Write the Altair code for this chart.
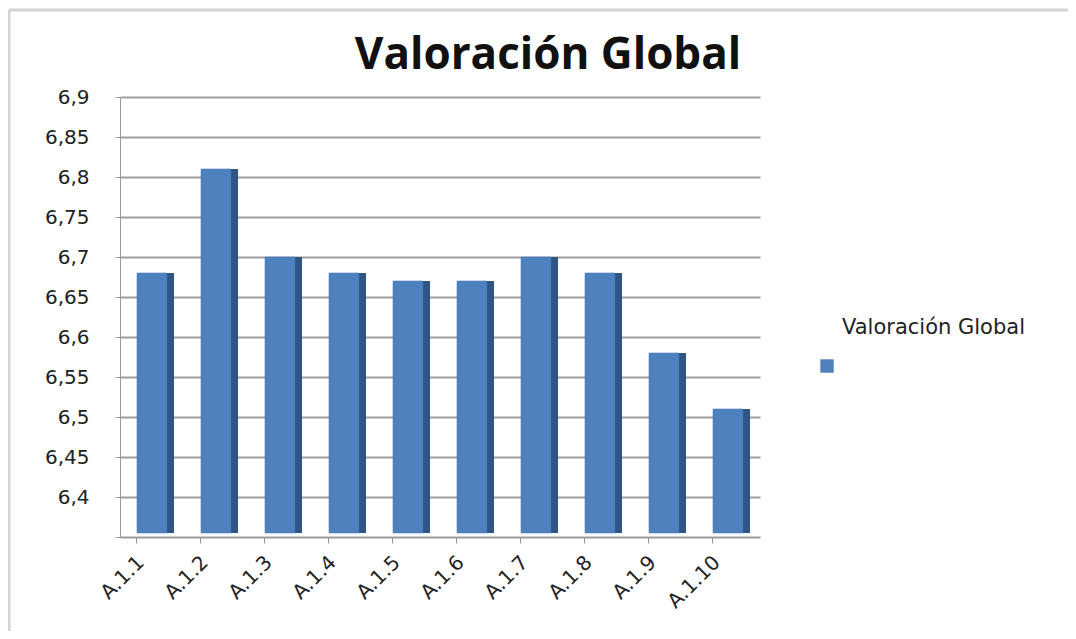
import altair as alt
import pandas as pd

categories = ["A.1.1", "A.1.2", "A.1.3", "A.1.4", "A.1.5", "A.1.6", "A.1.7", "A.1.8", "A.1.9", "A.1.10"]
values = [6.68, 6.81, 6.70, 6.68, 6.67, 6.67, 6.70, 6.68, 6.58, 6.51]
series = ["Valoración Global"] * len(categories)
y_ticks = [6.35, 6.4, 6.45, 6.5, 6.55, 6.6, 6.65, 6.7, 6.75, 6.8, 6.85, 6.9]
title_text = "Valoración Global"

df = pd.DataFrame({"cat": categories, "val": values, "serie": series})

x_enc = alt.X("cat:N", sort=categories, title=None,
              scale=alt.Scale(paddingInner=0.5, paddingOuter=0.25),
              axis=alt.Axis(labelAngle=-45, labelFontSize=20, labelFont="DejaVu Sans",
                            labelColor="#222", domainColor="#999", tickColor="#999",
                            labelPadding=16, labelAlign="right", labelBaseline="middle",
                            labelOverlap=False, tickSize=6, bandPosition=0, labelOffset=-11))
y_enc = alt.Y("val:Q", title=None,
              scale=alt.Scale(domain=[6.35, 6.9], zero=False, nice=False),
              axis=alt.Axis(values=y_ticks, labelFontSize=20, labelFont="DejaVu Sans",
                            labelColor="#222", domainColor="#999", tickColor="#999",
                            gridColor="#a0a0a0", gridWidth=2, labelPadding=26,
                            labelOverlap=False, labelBound=False, labelFlush=False,
                            labelExpr="datum.value == 6.35 ? '' : replace(format(datum.value, '.2~f'), '.', ',')"))

side = alt.Chart(df).mark_bar(color="#2e5585", width=8, xOffset=18, y2Offset=-4).encode(
    x=x_enc, y=y_enc, y2=alt.datum(6.35)
)
front = alt.Chart(df).mark_bar(width=30, y2Offset=-4, stroke="#3f6ea5", strokeWidth=0.5).encode(
    x=x_enc, y=y_enc, y2=alt.datum(6.35),
    color=alt.Color("serie:N", scale=alt.Scale(range=["#4f81bd"]),
                    legend=alt.Legend(title="Valoración Global", orient="none", legendX=722, legendY=220,
                                      titleFontSize=21, titleFontWeight="normal", titleFont="DejaVu Sans",
                                      titleColor="#222", titlePadding=21, titleLimit=400,
                                      symbolType="square", symbolSize=180, symbolStrokeWidth=0,
                                      labelExpr="''", symbolOffset=-22,
                                      direction="vertical"))
)

frame_src = pd.DataFrame({"k": [0]})
frame_top = alt.Chart(frame_src).mark_rule(color="#d4d4d4", strokeWidth=3).encode(
    x=alt.value(-111), x2=alt.value(960), y=alt.value(-87))
frame_left = alt.Chart(frame_src).mark_rule(color="#d4d4d4", strokeWidth=3).encode(
    x=alt.value(-111), y=alt.value(-87), y2=alt.value(545))
title_mark = alt.Chart(frame_src).mark_text(
    text=title_text, fontSize=44, font="Open Sans", fontWeight="bold", color="#111",
    align="center", baseline="alphabetic").encode(x=alt.value(428), y=alt.value(-28))

chart = alt.layer(frame_top, frame_left, title_mark, side, front).properties(
    width=640, height=440,
    padding={"left": 112, "top": 89, "right": 308, "bottom": 94},
    autosize=alt.AutoSizeParams(type="none"),
).configure(background="white").configure_view(stroke=None)

chart.save("out.html", embed_options={"renderer": "svg", "actions": False})
